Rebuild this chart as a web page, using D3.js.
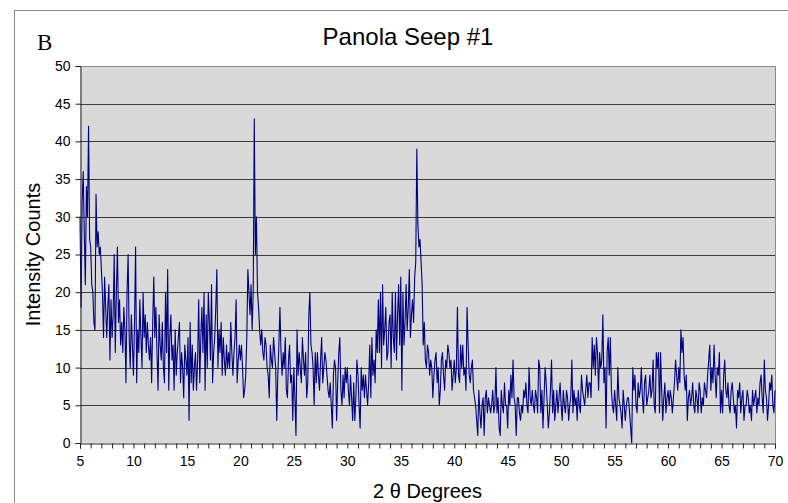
<!DOCTYPE html>
<html>
<head>
<meta charset="utf-8">
<script src="https://cdn.jsdelivr.net/npm/d3@7"></script>
<style>
  html, body { margin: 0; padding: 0; background: #fff; }
  svg { display: block; }
  text { font-family: Arial, "Liberation Sans", sans-serif; fill: #000; }
</style>
</head>
<body>
<svg id="chart" width="788" height="503"></svg>
<script>
// scan starts at 5 degrees, one reading every 0.1 degree
const thetaStart = 5;
const thetaStep = 0.1;

// intensity counts, one row per degree (x.0 ... x.9)
const intensity = [
  30, 18, 32, 36, 28, 21, 34, 30, 42, 27,   // 5
  26, 21, 20, 16, 15, 33, 26, 28, 25, 26,   // 6
  23, 20, 14, 22, 18, 14, 18, 21, 11, 19,   // 7
  14, 17, 25, 12, 20, 26, 16, 19, 13, 16,   // 8
  12, 18, 15, 8, 20, 25, 14, 10, 17, 13,    // 9
  9, 16, 26, 8, 15, 12, 19, 14, 10, 20,     // 10
  14, 17, 12, 16, 13, 11, 14, 8, 16, 22,    // 11
  14, 18, 12, 7, 17, 13, 11, 16, 10, 8,     // 12
  20, 12, 23, 7, 14, 17, 11, 13, 7, 15,     // 13
  9, 12, 14, 16, 8, 12, 10, 6, 13, 11,      // 14
  9, 14, 3, 16, 8, 13, 7, 10, 12, 7,        // 15
  11, 19, 8, 14, 18, 12, 20, 7, 17, 10,     // 16
  20, 16, 11, 21, 8, 12, 14, 18, 23, 10,    // 17
  15, 12, 16, 9, 14, 11, 9, 13, 10, 12,     // 18
  10, 16, 12, 9, 12, 14, 19, 8, 11, 13,     // 19
  11, 13, 10, 6, 7, 9, 14, 23, 20, 17,      // 20
  21, 15, 20, 43, 25, 30, 20, 18, 15, 13,   // 21
  15, 12, 11, 14, 13, 10, 9, 6, 13, 11,     // 22
  10, 14, 12, 10, 3, 9, 13, 18, 12, 9,      // 23
  12, 10, 14, 7, 6, 11, 13, 8, 9, 3,        // 24
  10, 6, 1, 15, 9, 12, 10, 8, 14, 11,       // 25
  9, 12, 6, 8, 17, 20, 13, 12, 10, 5,       // 26
  12, 8, 12, 9, 7, 11, 14, 8, 10, 12,       // 27
  11, 9, 7, 6, 8, 5, 2, 9, 11, 10,          // 28
  3, 8, 12, 14, 7, 5, 9, 6, 10, 8,          // 29
  10, 7, 5, 9, 6, 3, 8, 3, 6, 11,           // 30
  9, 5, 2, 10, 7, 9, 6, 9, 7, 5,            // 31
  8, 13, 6, 14, 9, 11, 8, 15, 12, 19,       // 32
  12, 20, 10, 21, 13, 15, 18, 11, 12, 16,   // 33
  17, 10, 20, 14, 12, 20, 11, 17, 21, 13,   // 34
  22, 7, 20, 13, 16, 21, 15, 18, 23, 14,    // 35
  17, 19, 16, 22, 24, 39, 29, 26, 27, 24,   // 36
  21, 13, 16, 11, 10, 13, 12, 9, 11, 10,    // 37
  6, 9, 11, 12, 8, 10, 5, 7, 11, 12,        // 38
  9, 7, 11, 10, 13, 12, 10, 11, 7, 9,       // 39
  11, 8, 10, 18, 9, 8, 13, 10, 13, 9,       // 40
  10, 7, 18, 13, 9, 8, 10, 11, 7, 6,        // 41
  5, 3, 1, 7, 4, 2, 5, 6, 1, 6,             // 42
  7, 4, 6, 5, 4, 5, 7, 4, 5, 10,            // 43
  4, 6, 2, 1, 7, 5, 4, 8, 5, 5,             // 44
  2, 7, 5, 9, 6, 11, 6, 5, 1, 6,            // 45
  6, 4, 3, 5, 4, 7, 6, 8, 5, 4,             // 46
  10, 6, 5, 7, 5, 4, 7, 6, 4, 11,           // 47
  10, 4, 7, 2, 6, 10, 8, 5, 2, 4,           // 48
  7, 11, 4, 7, 3, 5, 7, 4, 6, 8,            // 49
  5, 3, 7, 5, 4, 7, 6, 3, 5, 6,             // 50
  11, 4, 7, 5, 6, 3, 7, 5, 4, 9,            // 51
  7, 6, 5, 7, 9, 6, 8, 8, 6, 14,            // 52
  10, 13, 9, 14, 12, 7, 12, 10, 11, 17,     // 53
  8, 10, 2, 12, 14, 9, 14, 7, 5, 4,         // 54
  7, 5, 3, 10, 6, 5, 4, 2, 7, 5,            // 55
  3, 5, 6, 6, 4, 2, 0, 10, 7, 9,            // 56
  5, 4, 8, 6, 7, 10, 6, 4, 8, 9,            // 57
  5, 6, 7, 9, 6, 7, 11, 5, 4, 12,           // 58
  10, 12, 4, 12, 7, 3, 6, 8, 4, 6,          // 59
  7, 5, 7, 6, 4, 6, 8, 11, 9, 7,            // 60
  10, 8, 15, 12, 14, 9, 7, 9, 3, 6,         // 61
  7, 5, 6, 8, 5, 4, 7, 6, 4, 8,             // 62
  7, 4, 6, 5, 8, 7, 6, 9, 11, 13,           // 63
  7, 10, 8, 13, 9, 6, 10, 9, 12, 4,         // 64
  7, 4, 9, 11, 7, 6, 8, 5, 4, 7,            // 65
  8, 6, 4, 5, 2, 7, 6, 8, 4, 6,             // 66
  7, 3, 5, 5, 7, 6, 4, 5, 3, 7,             // 67
  5, 6, 7, 4, 6, 5, 8, 9, 6, 4,             // 68
  11, 7, 6, 3, 5, 8, 7, 9, 5, 4,            // 69
  7                                         // 70
];

const xTickLabels = [5, 10, 15, 20, 25, 30, 35, 40, 45, 50, 55, 60, 65, 70];
const yTickLabels = [0, 5, 10, 15, 20, 25, 30, 35, 40, 45, 50];

const svg = d3.select('#chart');
const plot = { left: 80, top: 66, right: 775, bottom: 443 };

// outer chart frame
svg.append('rect')
  .attr('x', 14.5).attr('y', 10.5)
  .attr('width', 820).attr('height', 560)
  .attr('fill', '#fff')
  .attr('stroke', '#8a8a8a');

const x = d3.scaleLinear().domain([5, 70]).range([plot.left, plot.right]);
const y = d3.scaleLinear().domain([0, 50]).range([plot.bottom, plot.top]);

// plot background
svg.append('rect')
  .attr('x', plot.left).attr('y', plot.top)
  .attr('width', plot.right - plot.left)
  .attr('height', plot.bottom - plot.top)
  .attr('fill', '#d9d9d9');

// horizontal gridlines
svg.append('g')
  .selectAll('line')
  .data(yTickLabels.filter(v => v > 0 && v < 50))
  .enter().append('line')
    .attr('x1', plot.left).attr('x2', plot.right)
    .attr('y1', d => Math.round(y(d)) + 0.5)
    .attr('y2', d => Math.round(y(d)) + 0.5)
    .attr('stroke', '#3c3c3c');

// top and right border of plot area
svg.append('path')
  .attr('d', `M${plot.left},${plot.top + 0.5}H${plot.right + 0.5}V${plot.bottom}`)
  .attr('fill', 'none')
  .attr('stroke', '#8a8a8a');

// the scan
const points = intensity.map((v, i) => [thetaStart + i * thetaStep, v]);
const line = d3.line()
  .x(d => x(d[0]))
  .y(d => y(d[1]));
svg.append('path')
  .datum(points)
  .attr('d', line)
  .attr('fill', 'none')
  .attr('stroke', '#000080')
  .attr('stroke-width', 1.1)
  .attr('stroke-linejoin', 'round');

// y axis
const yAxis = svg.append('g')
  .attr('transform', `translate(${plot.left + 0.5},0)`)
  .call(d3.axisLeft(y).tickValues(yTickLabels).tickSize(5).tickPadding(5));
yAxis.select('.domain').attr('stroke', '#222');
yAxis.selectAll('.tick line').attr('stroke', '#222');
yAxis.selectAll('text').style('font-size', '14px').attr('fill', '#000');

// x axis: a tick every degree, labels every 5
const minorTicks = d3.range(5, 71, 1);
const xAxis = svg.append('g')
  .attr('transform', `translate(0,${plot.bottom + 0.5})`)
  .call(d3.axisBottom(x)
    .tickValues(minorTicks)
    .tickSize(5)
    .tickPadding(8)
    .tickFormat(d => xTickLabels.includes(d) ? d : ''));
xAxis.select('.domain').attr('stroke', '#222');
xAxis.selectAll('.tick line').attr('stroke', '#222');
xAxis.selectAll('text').style('font-size', '14px').attr('fill', '#000');

// title and labels
svg.append('text')
  .attr('x', 408).attr('y', 45)
  .attr('text-anchor', 'middle')
  .style('font-size', '24px')
  .text('Panola Seep #1');

svg.append('text')
  .attr('x', 37).attr('y', 50)
  .style('font-family', '"Liberation Serif", "Times New Roman", serif')
  .style('font-size', '23px')
  .text('B');

svg.append('text')
  .attr('transform', `translate(40,${(plot.top + plot.bottom) / 2}) rotate(-90)`)
  .attr('text-anchor', 'middle')
  .style('font-size', '20px')
  .text('Intensity Counts');

svg.append('text')
  .attr('x', (plot.left + plot.right) / 2).attr('y', 498)
  .attr('text-anchor', 'middle')
  .style('font-size', '20px')
  .text('2 θ Degrees');
</script>
</body>
</html>
